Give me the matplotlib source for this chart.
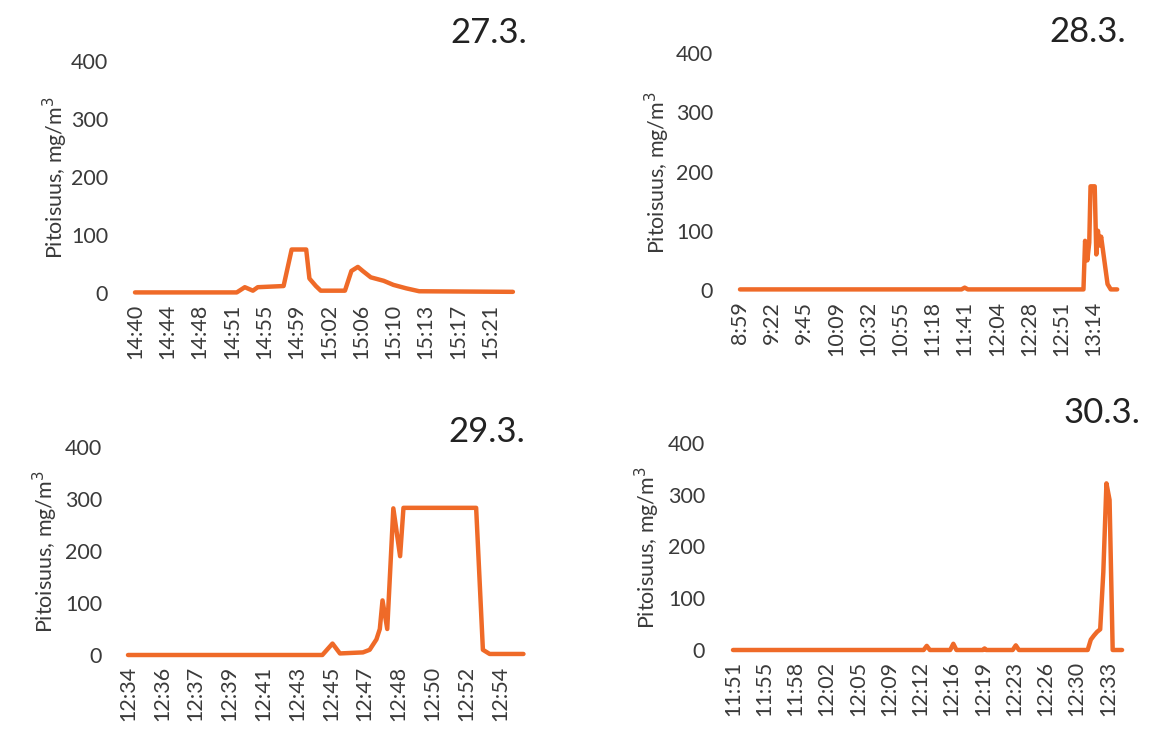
import matplotlib
matplotlib.use("Agg")
import matplotlib.pyplot as plt

plt.rcParams['font.family'] = ['Lato', 'DejaVu Sans']

W, H = 1153, 731
LINE_COLOR = '#EF6A28'
TEXT_COLOR = '#3a3a3a'

# ---- data (x in category-tick units, y in mg/m3) ----
titles = ['27.3.', '28.3.', '29.3.', '30.3.']

labels1 = ['14:40', '14:44', '14:48', '14:51', '14:55', '14:59', '15:02', '15:06', '15:10', '15:13', '15:17', '15:21']
x1 = [0, 3.15, 3.4, 3.65, 3.8, 4.6, 4.85, 5.3, 5.4, 5.6, 5.75, 6.5, 6.7, 6.9, 7.05, 7.3, 7.7, 8.0, 8.4, 8.8, 11.7]
y1 = [1, 1, 10, 4, 10, 12, 75, 75, 25, 12, 4, 4, 38, 45, 38, 27, 21, 14, 8, 3, 2]

labels2 = ['8:59', '9:22', '9:45', '10:09', '10:32', '10:55', '11:18', '11:41', '12:04', '12:28', '12:51', '13:14']
x2 = [0, 6.9, 7.0, 7.1, 10.7, 10.75, 10.82, 10.88, 10.92, 11.05, 11.1, 11.15, 11.2, 11.25, 11.35, 11.45, 11.55, 11.75]
y2 = [1, 1, 4, 1, 1, 83, 50, 80, 175, 175, 60, 100, 75, 90, 50, 10, 1, 1]

labels3 = ['12:34', '12:36', '12:37', '12:39', '12:41', '12:43', '12:45', '12:47', '12:48', '12:50', '12:52', '12:54']
x3 = [0, 5.75, 6.05, 6.27, 6.95, 7.15, 7.35, 7.45, 7.53, 7.67, 7.85, 8.05, 8.15, 10.3, 10.5, 10.7, 11.7]
y3 = [0, 0, 22, 3, 5, 10, 30, 50, 105, 50, 282, 190, 283, 283, 10, 2, 2]

labels4 = ['11:51', '11:55', '11:58', '12:02', '12:05', '12:09', '12:12', '12:16', '12:19', '12:23', '12:26', '12:30', '12:33']
x4 = [0, 6.1, 6.2, 6.3, 6.95, 7.05, 7.15, 8.0, 8.05, 8.1, 8.95, 9.05, 9.15, 11.35, 11.45, 11.55, 11.65, 11.75, 11.85, 11.95, 12.05, 12.15, 12.45]
y4 = [0, 0, 8, 0, 0, 12, 0, 0, 3, 0, 0, 9, 0, 0, 20, 28, 35, 40, 150, 322, 290, 0, 0]

yticks = [0, 100, 200, 300, 400]
ylabel = 'Pitoisuus, mg/m$^3$'

# ---- layout (pixels) ----
panels = [
    dict(x=x1, y=y1, labels=labels1, l=125, r=520, t=61, b=293, t0=135, sp=32.3, ylr=108, ylx=55, tr=527, ty=33),
    dict(x=x2, y=y2, labels=labels2, l=730, r=1130, t=53, b=290, t0=740, sp=32.1, ylr=713, ylx=657, tr=1126, ty=32),
    dict(x=x3, y=y3, labels=labels3, l=118, r=530, t=447, b=655, t0=128, sp=33.8, ylr=102, ylx=45, tr=525, ty=432),
    dict(x=x4, y=y4, labels=labels4, l=723, r=1130, t=443, b=650, t0=733, sp=31.25, ylr=705, ylx=647, tr=1140, ty=413),
]

FS = 15.5

fig = plt.figure(figsize=(W / 100, H / 100), dpi=100)
fig.patch.set_facecolor('white')

for p, title in zip(panels, titles):
    ax = fig.add_axes([p['l'] / W, 1 - p['b'] / H, (p['r'] - p['l']) / W, (p['b'] - p['t']) / H])
    ax.plot(p['x'], p['y'], color=LINE_COLOR, lw=3.2, solid_joinstyle='round', solid_capstyle='round',
            clip_on=False)
    ax.set_ylim(0, 400)
    ax.set_xlim((p['l'] - p['t0']) / p['sp'], (p['r'] - p['t0']) / p['sp'])
    ax.set_yticks(yticks)
    ax.set_xticks(range(len(p['labels'])))
    ax.set_xticklabels(p['labels'], rotation=90)
    for s in ax.spines.values():
        s.set_visible(False)
    ypad = (p['l'] - p['ylr']) * 0.72
    ax.tick_params(axis='y', length=0, pad=ypad, labelsize=FS, labelcolor=TEXT_COLOR)
    ax.tick_params(axis='x', length=0, pad=8, labelsize=FS, labelcolor=TEXT_COLOR)
    fig.text(p['ylx'] / W, 1 - ((p['t'] + p['b']) / 2 + 1) / H, ylabel, rotation=90,
             ha='center', va='center', fontsize=FS, color=TEXT_COLOR)
    fig.text(p['tr'] / W, 1 - p['ty'] / H, title, ha='right', va='center', fontsize=25, color='#222222')

fig.savefig('out.png', dpi=100, facecolor='white')
